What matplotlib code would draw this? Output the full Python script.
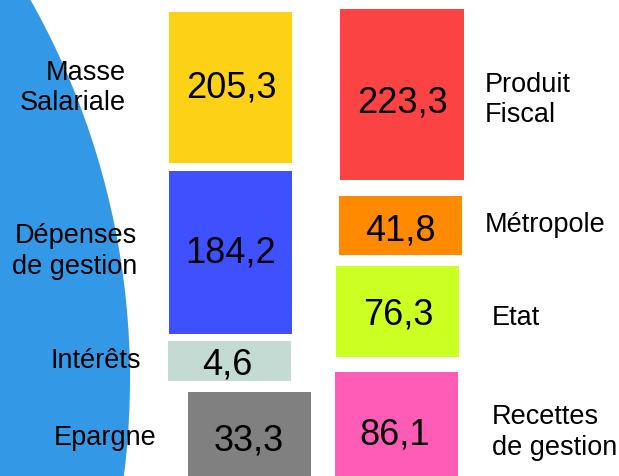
import matplotlib
matplotlib.use("Agg")
import matplotlib.pyplot as plt
from matplotlib.patches import Rectangle, Circle

# emplois (left) and ressources (right), values in M€
left_labels = ["Masse\nSalariale", "Dépenses\nde gestion", "Intérêts", "Epargne"]
left_values = [205.3, 184.2, 4.6, 33.3]
left_colors = ["#fcd116", "#3f51ff", "#c3dbd2", "#808080"]

right_labels = ["Produit\nFiscal", "Métropole", "Etat", "Recettes\nde gestion"]
right_values = [223.3, 41.8, 76.3, 86.1]
right_colors = ["#fc4343", "#ff8a00", "#ccff22", "#ff5cb8"]

# layout in pixels: (x0, y0, x1, y1) for each box, label anchor (x, y)
left_boxes = [(169, 13, 292, 164), (169, 172, 292, 335), (168, 342, 291, 382), (188, 393, 311, 480)]
left_text = [(231, 88), (231, 253), (227, 365), (249, 441)]
left_lab = [(126, 88), (137, 252), (141, 361), (156, 438)]

right_boxes = [(340, 10, 464, 181), (339, 197, 462, 256), (336, 267, 459, 358), (335, 373, 458, 480)]
right_text = [(402, 103), (400, 231), (398, 315), (395, 435)]
right_lab = [(485, 100), (485, 225), (492, 318), (492, 433)]

plt.rcParams["font.family"] = ["Liberation Sans", "DejaVu Sans"]

fig = plt.figure(figsize=(6.19, 4.77), dpi=100)
ax = fig.add_axes([0, 0, 1, 1])
ax.set_xlim(0, 619)
ax.set_ylim(477, 0)
ax.axis("off")

# big blue disc on the left
ax.add_patch(Circle((-642, 380), 772, color="#3399e6", lw=0))

for boxes, vals, cols, txt in ((left_boxes, left_values, left_colors, left_text),
                               (right_boxes, right_values, right_colors, right_text)):
    for (x0, y0, x1, y1), v, c, (tx, ty) in zip(boxes, vals, cols, txt):
        ax.add_patch(Rectangle((x0, y0), x1 - x0, y1 - y0, color=c, lw=0))
        ax.text(tx, ty, f"{v:.1f}".replace(".", ","), fontsize=26,
                ha="center", va="center", color="black")

for lab, (lx, ly) in zip(left_labels, left_lab):
    ax.text(lx, ly, lab, fontsize=19.5, ha="right", va="center",
            multialignment="right", linespacing=1.25)
for lab, (lx, ly) in zip(right_labels, right_lab):
    ax.text(lx, ly, lab, fontsize=19.5, ha="left", va="center",
            multialignment="left", linespacing=1.25)

fig.savefig("out.png", dpi=100)
